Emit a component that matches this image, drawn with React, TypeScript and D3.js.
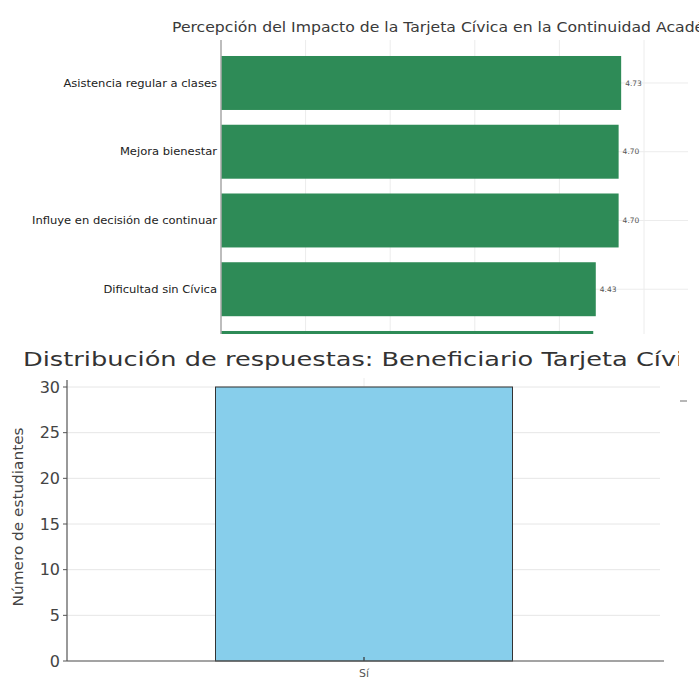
import React from "react";
import * as d3 from "d3";

const topCategories = [
  "Asistencia regular a clases",
  "Mejora bienestar",
  "Influye en decisión de continuar",
  "Dificultad sin Cívica",
  "Recomendaría la Tarjeta Cívica",
];
const topValues = [4.73, 4.7, 4.7, 4.43, 4.4];
const topTicks = [0, 1, 2, 3, 4, 5];
const topTitle = "Percepción del Impacto de la Tarjeta Cívica en la Continuidad Académica";

const bottomCategories = ["Sí"];
const bottomValues = [30];
const bottomTicks = [0, 5, 10, 15, 20, 25, 30];
const bottomTitle = "Distribución de respuestas: Beneficiario Tarjeta Cívica";
const bottomYLabel = "Número de estudiantes";

const W = 699;
const H = 684;
const FONT = "'DejaVu Sans', sans-serif";
const TOP_VISIBLE_BOTTOM = 334;

export default function App() {
  // top chart scales
  const xTop = d3.scaleLinear().domain([0, 5]).range([221, 644]);
  const yTop = d3
    .scaleBand<string>()
    .domain(topCategories)
    .range([48.6, 48.6 + 68.75 * topCategories.length])
    .paddingInner(0.215)
    .paddingOuter(0.1075);
  const midTop = (c: string) => (yTop(c) ?? 0) + yTop.bandwidth() / 2;

  // bottom chart scales
  const yBot = d3.scaleLinear().domain([0, 30]).range([661, 387]);
  const xBot = d3
    .scaleBand<string>()
    .domain(bottomCategories)
    .range([67, 661])
    .paddingInner(0)
    .paddingOuter(0.5);
  const midBot = (c: string) => (xBot(c) ?? 0) + xBot.bandwidth() / 2;

  return (
    <svg
      width={W}
      height={H}
      style={{ position: "absolute", left: 0, top: 0, background: "#fff" }}
    >
      <defs>
        <clipPath id="topclip">
          <rect x={0} y={0} width={W} height={TOP_VISIBLE_BOTTOM} />
        </clipPath>
        <clipPath id="botclip">
          <rect x={0} y={TOP_VISIBLE_BOTTOM} width={679} height={H - TOP_VISIBLE_BOTTOM} />
        </clipPath>
      </defs>
      <rect x={0} y={0} width={W} height={H} fill="#fff" />
      {/* ---------- TOP CHART ---------- */}
      <g clipPath="url(#topclip)">
        <text
          x={172}
          y={32}
          fontFamily={FONT}
          fontSize={14}
          fill="#3a3a3a"
          textLength={570}
          lengthAdjust="spacingAndGlyphs"
        >
          {topTitle}
        </text>
        {topTicks.map((t) => (
          <line
            key={"tv" + t}
            x1={xTop(t)}
            x2={xTop(t)}
            y1={40}
            y2={334}
            stroke="#ececec"
            strokeWidth={1}
          />
        ))}
        {topCategories.map((c) => (
          <line
            key={"th" + c}
            x1={221}
            x2={688}
            y1={midTop(c)}
            y2={midTop(c)}
            stroke="#ececec"
            strokeWidth={1}
          />
        ))}
        {topCategories.map((c, i) => (
          <rect
            key={"tb" + c}
            x={xTop(0)}
            y={yTop(c)}
            width={xTop(topValues[i]) - xTop(0)}
            height={yTop.bandwidth()}
            fill="#2e8b57"
          />
        ))}
        {topCategories
          .filter((c) => midTop(c) < TOP_VISIBLE_BOTTOM)
          .map((c) => {
            const i = topCategories.indexOf(c);
            return (
              <text
                key={"tvl" + c}
                x={xTop(topValues[i]) + 4}
                y={midTop(c)}
                dy="0.35em"
                fontFamily={FONT}
                fontSize={7.5}
                fill="#555"
              >
                {topValues[i].toFixed(2)}
              </text>
            );
          })}
        {topCategories
          .filter((c) => midTop(c) < TOP_VISIBLE_BOTTOM)
          .map((c) => (
            <text
              key={"tl" + c}
              transform={`translate(217,${midTop(c)}) scale(1.1,1)`}
              dy="0.35em"
              textAnchor="end"
              fontFamily={FONT}
              fontSize={10.5}
              fill="#222"
            >
              {c}
            </text>
          ))}
        <line x1={221} x2={221} y1={40} y2={334} stroke="#aaa" strokeWidth={1.5} />
      </g>

      {/* ---------- BOTTOM CHART ---------- */}
      <rect x={0} y={TOP_VISIBLE_BOTTOM} width={W} height={H - TOP_VISIBLE_BOTTOM} fill="#fff" />
      <g clipPath="url(#botclip)">
        <text
          x={23}
          y={366}
          fontFamily={FONT}
          fontSize={20}
          fill="#333"
          textLength={690}
          lengthAdjust="spacingAndGlyphs"
        >
          {bottomTitle}
        </text>
        {bottomTicks.map((t) => (
          <line
            key={"bg" + t}
            x1={67}
            x2={660}
            y1={yBot(t)}
            y2={yBot(t)}
            stroke="#e6e6e6"
            strokeWidth={1}
          />
        ))}
        {bottomCategories.map((c) => (
          <line
            key={"bvg" + c}
            x1={midBot(c)}
            x2={midBot(c)}
            y1={378}
            y2={661}
            stroke="#ececec"
            strokeWidth={1}
          />
        ))}
        {bottomCategories.map((c, i) => (
          <rect
            key={"bb" + c}
            x={xBot(c)}
            y={yBot(bottomValues[i])}
            width={xBot.bandwidth()}
            height={yBot(0) - yBot(bottomValues[i])}
            fill="#87ceeb"
            stroke="#333"
            strokeWidth={1}
          />
        ))}
        {bottomTicks.map((t) => (
          <g key={"bt" + t}>
            <line x1={63} x2={67} y1={yBot(t)} y2={yBot(t)} stroke="#555" strokeWidth={1} />
            <text
              x={60}
              y={yBot(t)}
              dy="0.36em"
              textAnchor="end"
              fontFamily={FONT}
              fontSize={16}
              fill="#444"
            >
              {t}
            </text>
          </g>
        ))}
        {bottomCategories.map((c) => (
          <g key={"bx" + c}>
            <line
              x1={midBot(c)}
              x2={midBot(c)}
              y1={657}
              y2={661}
              stroke="#333"
              strokeWidth={1.2}
            />
            <text
              x={midBot(c)}
              y={677}
              textAnchor="middle"
              fontFamily={FONT}
              fontSize={11}
              fill="#555"
            >
              {c}
            </text>
          </g>
        ))}
        <line x1={67} x2={67} y1={380} y2={661} stroke="#555" strokeWidth={1.2} />
        <line x1={67} x2={664} y1={661} y2={661} stroke="#555" strokeWidth={1.2} />
        <text
          transform="translate(23,517) rotate(-90)"
          textAnchor="middle"
          fontFamily={FONT}
          fontSize={14}
          fill="#444"
          textLength={179}
          lengthAdjust="spacingAndGlyphs"
        >
          {bottomYLabel}
        </text>
      </g>
      <line x1={680} x2={687} y1={401} y2={401} stroke="#888" strokeWidth={1.2} />
    </svg>
  );
}
